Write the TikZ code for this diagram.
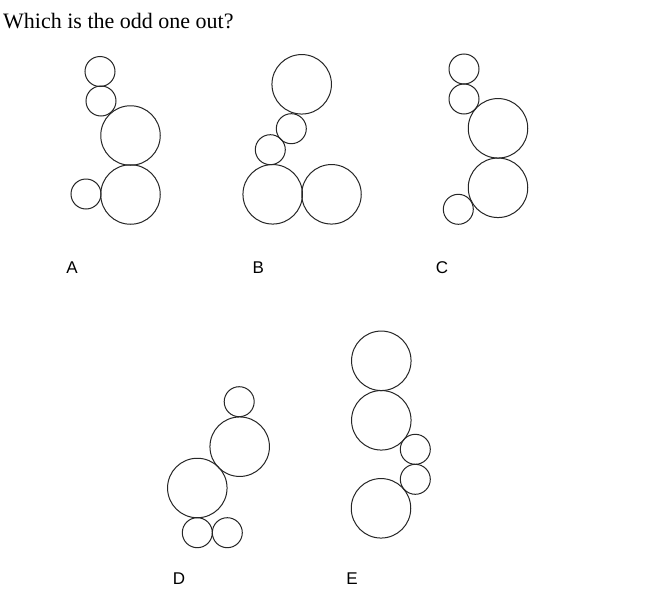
\documentclass[tikz,border=0pt]{standalone}
\usepackage{fontspec}
\setmainfont{Liberation Serif}
\newfontfamily\lblfont{Liberation Sans}
\begin{document}
\begin{tikzpicture}[x=1pt,y=-1pt,
  ring/.style={draw=black!85,line width=1pt,circle,inner sep=0pt},
  sm/.style={ring,minimum size=30pt},
  bg/.style={ring,minimum size=59.5pt},
  lbl/.style={font=\lblfont\fontsize{17}{17}\selectfont,inner sep=0pt}]
\useasboundingbox[fill=white] (0,0) rectangle (659,608);
\node[anchor=base west,inner sep=0pt,font=\fontsize{22}{22}\selectfont] (title) at (3,28) {Which is the odd one out?};
% A
\node[sm] (a1) at (100,71.5) {};
\node[sm] (a2) at (101,101) {};
\node[bg] (a3) at (130.5,135.5) {};
\node[bg] (a4) at (130.5,194.5) {};
\node[sm] (a5) at (86,194) {};
\node[lbl] (la) at (72,267.5) {A};
% B
\node[bg] (b1) at (301.7,84.3) {};
\node[sm] (b2) at (291.3,128.7) {};
\node[sm] (b3) at (270.3,149.7) {};
\node[bg] (b4) at (272.7,194.3) {};
\node[bg] (b5) at (331.5,194.3) {};
\node[lbl] (lb) at (258.3,267.5) {B};
% C
\node[sm] (c1) at (464,69) {};
\node[sm] (c2) at (464,99) {};
\node[bg] (c3) at (498,128.3) {};
\node[bg] (c4) at (498,187.8) {};
\node[sm] (c5) at (458.3,209.3) {};
\node[lbl] (lc) at (442,267.5) {C};
% D
\node[sm] (d1) at (239.2,401.7) {};
\node[bg] (d2) at (239.7,446.7) {};
\node[bg] (d3) at (197.3,488) {};
\node[sm] (d4) at (197.3,532.7) {};
\node[sm] (d5) at (227.3,532.7) {};
\node[lbl] (ld) at (179,578.5) {D};
% E
\node[bg] (e1) at (381.3,360.8) {};
\node[bg] (e2) at (381.3,420.3) {};
\node[sm] (e3) at (415.3,449.3) {};
\node[sm] (e4) at (415.3,479.3) {};
\node[bg] (e5) at (381,508.3) {};
\node[lbl] (le) at (352,578.5) {E};
\end{tikzpicture}
\end{document}
